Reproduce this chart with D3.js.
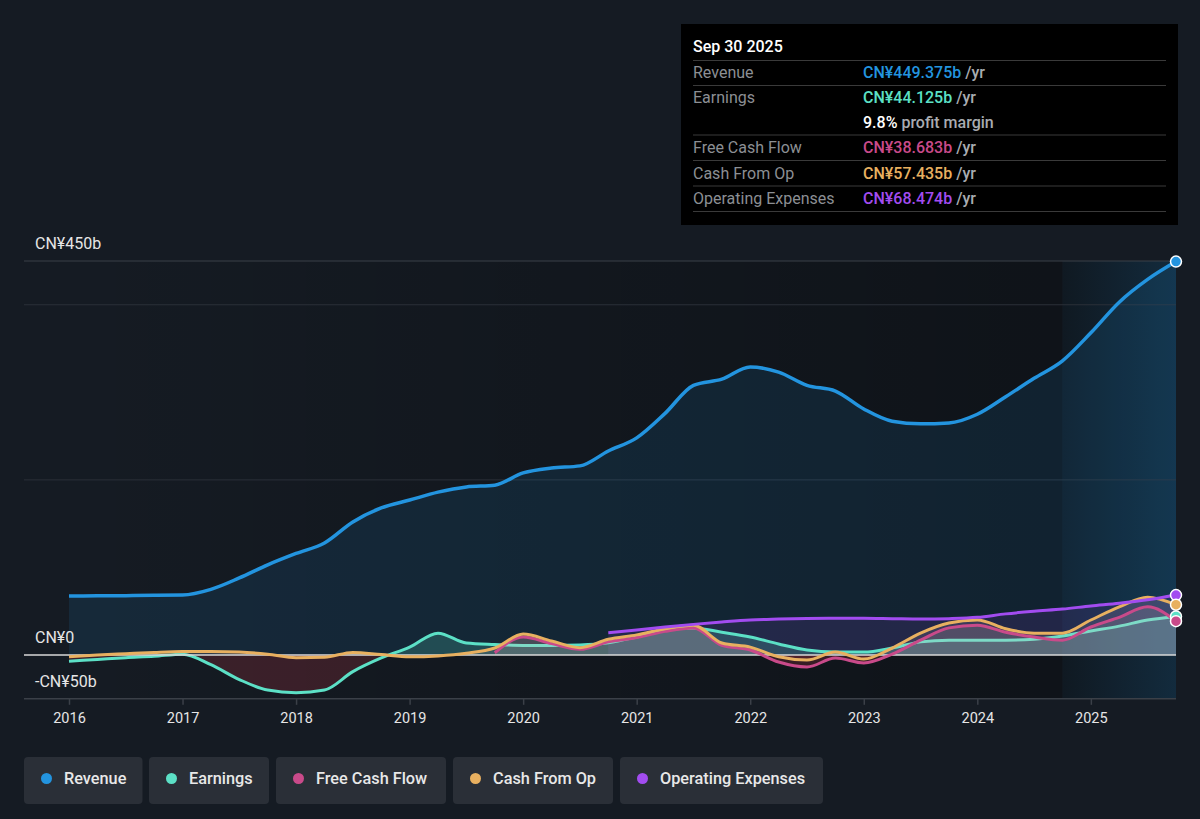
<!DOCTYPE html>
<html>
<head>
<meta charset="utf-8">
<script src="https://cdn.jsdelivr.net/npm/d3@7"></script>
<style>
    body { margin: 0; background: #151b23; }
    svg { display: block; font-family: Roboto, "Noto Sans", sans-serif; }
</style>
</head>
<body>
<script>
// Quarter ends as decimal years
const quarters = [
    2016.0, 2016.25, 2016.5, 2016.75, 2017.0, 2017.25, 2017.5, 2017.75,
    2018.0, 2018.25, 2018.5, 2018.75, 2019.0, 2019.25, 2019.5, 2019.75,
    2020.0, 2020.25, 2020.5, 2020.75, 2021.0, 2021.25, 2021.5, 2021.75,
    2022.0, 2022.25, 2022.5, 2022.75, 2023.0, 2023.25, 2023.5, 2023.75,
    2024.0, 2024.25, 2024.5, 2024.75, 2025.0, 2025.25, 2025.5, 2025.75
];

// values in CN¥ billions
const revenue = [
    67.4, 67.6, 67.8, 68.2, 68.5, 75, 88, 103,
    116, 128, 152, 168, 177, 186, 192, 194,
    208, 213.6, 216, 233, 248, 276, 308, 315,
    329, 323, 308, 301.5, 281, 267, 264, 265,
    275, 295, 316, 336, 368, 403, 429, 449.375
];
const earnings = [
    -7, -5, -3, -1.5, 1, -11, -28, -40,
    -43, -40, -19, -3.4, 9, 25, 13.7, 12,
    11, 11, 11.5, 14, 20.6, 28.5, 31, 26,
    20.6, 12.6, 5.7, 3.4, 3.4, 8, 15, 17,
    17, 17, 18, 21.7, 27.4, 33, 40, 44.125
];
const cashFromOp = [
    -2, 0, 1.5, 3, 4, 4, 3.4, 1,
    -3, -2.5, 3, 0.5, -2, -1, 2, 8,
    24, 16, 8.4, 18, 23, 30, 34, 13.7,
    9, -2, -5.7, 3.4, -4.6, 8, 25, 36.5,
    40, 30, 25, 25, 40, 55, 66, 57.435
];
// FCF starts 2019.75, OpEx starts 2020.75
const fcfStart = 15;
const freeCashFlow = [
    2.6, 20.6, 13, 6.5, 15, 20, 27, 31, 11,
    5.7, -8, -13.7, -3.4, -9, 1, 17, 31,
    34, 26, 20.6, 17, 32, 43, 55, 38.683
];
const opexStart = 19;
const operatingExpenses = [
    25.5, 28.5, 32, 35, 37.7,
    40, 41, 41.7, 42, 42, 41.5, 41, 41.5,
    43, 47, 50, 52.5, 56, 59, 63, 68.474
];

const yearTicks = [2016, 2017, 2018, 2019, 2020, 2021, 2022, 2023, 2024, 2025];
const gridValues = [450, 400, 200];
const yLabels = [
    { v: 450, text: "CN¥450b" },
    { v: 0, text: "CN¥0" },
    { v: -50, text: "-CN¥50b" }
];

const colors = {
    revenue: "#2394df",
    earnings: "#5ce0c6",
    fcf: "#c94a8a",
    cfo: "#e8b060",
    opex: "#a24cf0"
};

const legendItems = [
    { name: "Revenue", color: colors.revenue },
    { name: "Earnings", color: colors.earnings },
    { name: "Free Cash Flow", color: colors.fcf },
    { name: "Cash From Op", color: colors.cfo },
    { name: "Operating Expenses", color: colors.opex }
];

const tipRows = [
    { label: "Revenue", value: "CN¥449.375b", color: colors.revenue, unit: " /yr" },
    { label: "Earnings", value: "CN¥44.125b", color: colors.earnings, unit: " /yr" },
    { label: "", value: "9.8%", color: "#ffffff", unit: " profit margin" },
    { label: "Free Cash Flow", value: "CN¥38.683b", color: colors.fcf, unit: " /yr" },
    { label: "Cash From Op", value: "CN¥57.435b", color: colors.cfo, unit: " /yr" },
    { label: "Operating Expenses", value: "CN¥68.474b", color: colors.opex, unit: " /yr" }
];

const toSeries = (vals, start) => vals.map((v, i) => ({ t: quarters[start + i], v: v }));

const width = 1200, height = 819;
const plotLeft = 24, plotRight = 1176;

const x = d3.scaleLinear().domain([2016, 2025.75]).range([69, 1176]);
const y = d3.scaleLinear().domain([-50, 450]).range([698.8, 261]);

const svg = d3.select("body").append("svg")
    .attr("width", width)
    .attr("height", height);

const defs = svg.append("defs");

const darken = defs.append("linearGradient").attr("id", "darken")
    .attr("x1", "0").attr("x2", "1").attr("y1", "0").attr("y2", "0");
darken.append("stop").attr("offset", "0").attr("stop-color", "#000").attr("stop-opacity", 0);
darken.append("stop").attr("offset", "1").attr("stop-color", "#000").attr("stop-opacity", 0.3);

const hilite = defs.append("linearGradient").attr("id", "hilite")
    .attr("x1", "0").attr("x2", "1").attr("y1", "0").attr("y2", "0");
hilite.append("stop").attr("offset", "0").attr("stop-color", colors.revenue).attr("stop-opacity", 0.04);
hilite.append("stop").attr("offset", "1").attr("stop-color", colors.revenue).attr("stop-opacity", 0.18);

defs.append("clipPath").attr("id", "clipPos").append("rect")
    .attr("x", 0).attr("y", 0).attr("width", width).attr("height", y(0));
defs.append("clipPath").attr("id", "clipNeg").append("rect")
    .attr("x", 0).attr("y", y(0)).attr("width", width).attr("height", height - y(0));

// background bands (past-year highlight on the right)
const bandTop = y(450), bandH = y(-50) - y(450);
svg.append("rect")
    .attr("x", x(2016)).attr("y", bandTop)
    .attr("width", x(2024.75) - x(2016)).attr("height", bandH)
    .attr("fill", "url(#darken)");
svg.append("rect")
    .attr("x", x(2024.75)).attr("y", bandTop)
    .attr("width", x(2025.75) - x(2024.75)).attr("height", bandH)
    .attr("fill", "#0f141a");
svg.append("rect")
    .attr("x", x(2024.75)).attr("y", bandTop)
    .attr("width", x(2025.75) - x(2024.75)).attr("height", bandH)
    .attr("fill", "url(#hilite)");

// Grid
svg.append("g").selectAll("line")
    .data(gridValues)
    .join("line")
    .attr("x1", plotLeft).attr("x2", plotRight)
    .attr("y1", d => y(d)).attr("y2", d => y(d))
    .attr("stroke", (d, i) => i === 0 ? "#3b4048" : "#2b3038")
    .attr("stroke-width", 1);

// X axis
const xAxis = d3.axisBottom(x)
    .tickValues(yearTicks)
    .tickFormat(d3.format("d"))
    .tickSize(6)
    .tickPadding(8);
const gx = svg.append("g")
    .attr("transform", `translate(0,${y(-50)})`)
    .call(xAxis);
gx.select(".domain")
    .attr("d", `M${plotLeft},0H${plotRight}`)
    .attr("stroke", "#3b4048")
    .attr("stroke-width", 1.5);
gx.selectAll(".tick line").attr("stroke", "#3b4048").attr("stroke-width", 1.5);
gx.selectAll(".tick text")
    .attr("fill", "#e6e6e6")
    .attr("font-size", 14.5)
    .attr("font-family", "Roboto, sans-serif");

const curve = d3.curveMonotoneX;
const line = d3.line().x(d => x(d.t)).y(d => y(d.v)).curve(curve);
const area = d3.area().x(d => x(d.t)).y0(y(0)).y1(d => y(d.v)).curve(curve);

const revData = toSeries(revenue, 0);
const earnData = toSeries(earnings, 0);
const cfoData = toSeries(cashFromOp, 0);
const fcfData = toSeries(freeCashFlow, fcfStart);
const opexData = toSeries(operatingExpenses, opexStart);

// Areas
svg.append("path").datum(revData)
    .attr("d", area)
    .attr("fill", colors.revenue).attr("fill-opacity", 0.12);

svg.append("path").datum(opexData)
    .attr("d", area)
    .attr("fill", colors.opex).attr("fill-opacity", 0.12);

const smallArea = (data, posFill, posOpacity) => {
    svg.append("path").datum(data)
        .attr("d", area)
        .attr("clip-path", "url(#clipPos)")
        .attr("fill", posFill).attr("fill-opacity", posOpacity);
    svg.append("path").datum(data)
        .attr("d", area)
        .attr("clip-path", "url(#clipNeg)")
        .attr("fill", "#7a2a38").attr("fill-opacity", 0.38);
};

smallArea(earnData, colors.earnings, 0.2);

svg.append("path").datum(earnData)
    .attr("d", line)
    .attr("fill", "none")
    .attr("stroke", colors.earnings)
    .attr("stroke-width", 3);

smallArea(fcfData, "#e8c8cc", 0.13);
smallArea(cfoData, "#e8c8cc", 0.13);

// zero line
svg.append("line")
    .attr("x1", plotLeft).attr("x2", plotRight)
    .attr("y1", y(0)).attr("y2", y(0))
    .attr("stroke", "#d8d8d8").attr("stroke-width", 1.5);

// Lines
const drawLine = (data, color, w) => {
    svg.append("path").datum(data)
        .attr("d", line)
        .attr("fill", "none")
        .attr("stroke", color)
        .attr("stroke-width", w)
        .attr("stroke-linejoin", "round");
};
drawLine(fcfData, colors.fcf, 3);
drawLine(cfoData, colors.cfo, 3);
drawLine(opexData, colors.opex, 3);
drawLine(revData, colors.revenue, 3.5);

// End markers
const ends = [
    { d: revData, c: colors.revenue },
    { d: opexData, c: colors.opex },
    { d: cfoData, c: colors.cfo },
    { d: earnData, c: colors.earnings },
    { d: fcfData, c: colors.fcf }
];
svg.append("g").selectAll("circle")
    .data(ends)
    .join("circle")
    .attr("cx", e => x(e.d[e.d.length - 1].t))
    .attr("cy", e => y(e.d[e.d.length - 1].v))
    .attr("r", 5.5)
    .attr("fill", e => e.c)
    .attr("stroke", "#ffffff")
    .attr("stroke-width", 1.5);

// Y labels
svg.append("g").selectAll("text")
    .data(yLabels)
    .join("text")
    .attr("x", 35)
    .attr("y", d => y(d.v) - 12)
    .attr("fill", "#e6e6e6")
    .attr("font-size", 16)
    .text(d => d.text);

// Tooltip box
const tip = svg.append("g").attr("transform", "translate(681,24)");
tip.append("rect")
    .attr("width", 497).attr("height", 201)
    .attr("fill", "#000000");
tip.append("text")
    .attr("x", 12).attr("y", 27.5)
    .attr("fill", "#ffffff")
    .attr("font-size", 16)
    .attr("font-weight", 500)
    .text("Sep 30 2025");

const sepY = [36.5, 61.5, 111, 136.5, 162, 187.5];
tip.append("g").selectAll("line")
    .data(sepY)
    .join("line")
    .attr("x1", 12).attr("x2", 485)
    .attr("y1", d => d).attr("y2", d => d)
    .attr("stroke", "#3a3a3a").attr("stroke-width", 1);

const rowY = [53.5, 78.5, 103.5, 128.5, 154.5, 179.5];
tipRows.forEach((r, i) => {
    tip.append("text")
        .attr("x", 12).attr("y", rowY[i])
        .attr("fill", "#8c8f94")
        .attr("font-size", 16)
        .text(r.label);
    const t = tip.append("text")
        .attr("x", 182).attr("y", rowY[i])
        .attr("font-size", 16);
    t.append("tspan")
        .attr("fill", r.color)
        .attr("font-weight", 500)
        .text(r.value);
    t.append("tspan")
        .attr("fill", "#a9acb1")
        .attr("font-weight", 500)
        .text(r.unit);
});

// Legend
const legendX = [24, 149, 276, 453, 620];
const legendW = [118.5, 120, 170, 160, 203];
const legend = svg.append("g").selectAll("g")
    .data(legendItems)
    .join("g")
    .attr("transform", (d, i) => `translate(${legendX[i]},757)`);
legend.append("rect")
    .attr("width", (d, i) => legendW[i])
    .attr("height", 47)
    .attr("rx", 4)
    .attr("fill", "#2a2f37");
legend.append("circle")
    .attr("cx", 22.5).attr("cy", 21.5)
    .attr("r", 5.5)
    .attr("fill", d => d.color);
legend.append("text")
    .attr("x", 40).attr("y", 27)
    .attr("fill", "#e8e8e8")
    .attr("font-size", 16.3)
    .attr("font-weight", 500)
    .text(d => d.name);
</script>
</body>
</html>
